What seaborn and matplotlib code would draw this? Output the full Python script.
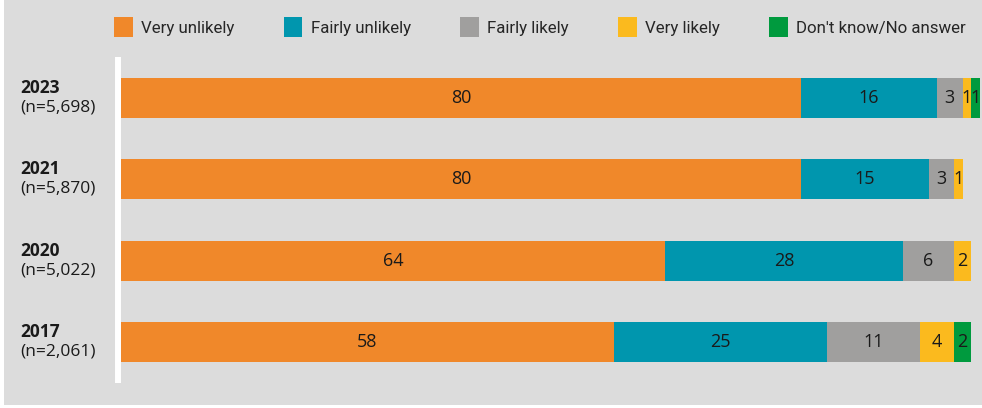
import matplotlib
matplotlib.use("Agg")
import matplotlib.pyplot as plt
import matplotlib.transforms as mtransforms
from matplotlib.patches import Patch, Rectangle
import pandas as pd
import seaborn as sns

# data
years = ["2023", "2021", "2020", "2017"]
sample_sizes = ["(n=5,698)", "(n=5,870)", "(n=5,022)", "(n=2,061)"]
categories = ["Very unlikely", "Fairly unlikely", "Fairly likely", "Very likely", "Don't know/No answer"]
very_unlikely = [80, 80, 64, 58]
fairly_unlikely = [16, 15, 28, 25]
fairly_likely = [3, 3, 6, 11]
very_likely = [1, 1, 2, 4]
dont_know = [1, 0, 0, 2]

colors = ["#F0882A", "#0096AE", "#A09F9E", "#FBBA1E", "#009A3E"]
bg = "#DCDCDC"

sns.set_theme(style="white")
plt.rcParams["font.family"] = ["Open Sans", "DejaVu Sans"]

df = pd.DataFrame({
    "year": years,
    categories[0]: very_unlikely,
    categories[1]: fairly_unlikely,
    categories[2]: fairly_likely,
    categories[3]: very_likely,
    categories[4]: dont_know,
})
# cumulative ends for stacking
cum = df[categories].cumsum(axis=1)
for c in categories:
    df["end_" + c] = cum[c]

W, H = 982, 408
fig = plt.figure(figsize=(W / 100, H / 100), dpi=100, facecolor="white")
fig.patches.append(Rectangle((4 / W, 3 / H), 978 / W, 405 / H, transform=fig.transFigure,
                             facecolor=bg, edgecolor="none", zorder=-10))

ax = fig.add_axes([121 / W, 25 / H, 861 / W, 326 / H])
ax.set_facecolor(bg)

# draw the longest cumulative bar first so shorter ones sit on top
for c, col in reversed(list(zip(categories, colors))):
    sns.barplot(data=df, y="year", x="end_" + c, order=years, orient="h", color=col,
                width=0.49, linewidth=0, saturation=1, errorbar=None, ax=ax)

ax.set_xlim(0, 861 / 8.5)
ax.set_ylim(3.5, -0.5)
ax.set_xlabel("")
ax.set_ylabel("")
ax.set_xticks([])
ax.set_yticks([])
for s in ["top", "right", "bottom", "left"]:
    ax.spines[s].set_visible(False)
ax.axvline(-0.35, color="white", lw=4.3, ymin=0, ymax=1, clip_on=False,
           solid_capstyle="butt", zorder=0)

# segment labels
for i, y in enumerate(years):
    left = 0
    for c in categories:
        v = df.loc[i, c]
        if v > 0:
            ax.text(left + v / 2, i, str(v), ha="center", va="center",
                    fontsize=13, color="#1a1a1a")
        left += v

# row labels
trans = mtransforms.blended_transform_factory(fig.transFigure, ax.transData)
for i, (y, n) in enumerate(zip(years, sample_sizes)):
    ax.text(20 / W, i - 0.125, y, transform=trans, ha="left", va="center",
            fontsize=12.5, fontweight="bold", color="#1a1a1a")
    ax.text(20 / W, i + 0.115, n, transform=trans, ha="left", va="center",
            fontsize=12.5, color="#1a1a1a")

handles = [Patch(facecolor=col, edgecolor="none", label=c) for c, col in zip(categories, colors)]
fig.legend(handles=handles, loc="center", ncol=5, frameon=False,
           bbox_to_anchor=(540 / W, 1 - 27 / H),
           prop={"family": ["Roboto", "DejaVu Sans"], "size": 12.2},
           handlelength=1.1, handleheight=1.45, handletextpad=0.5, columnspacing=2.9)

fig.savefig("out.png", dpi=100, facecolor=fig.get_facecolor())
